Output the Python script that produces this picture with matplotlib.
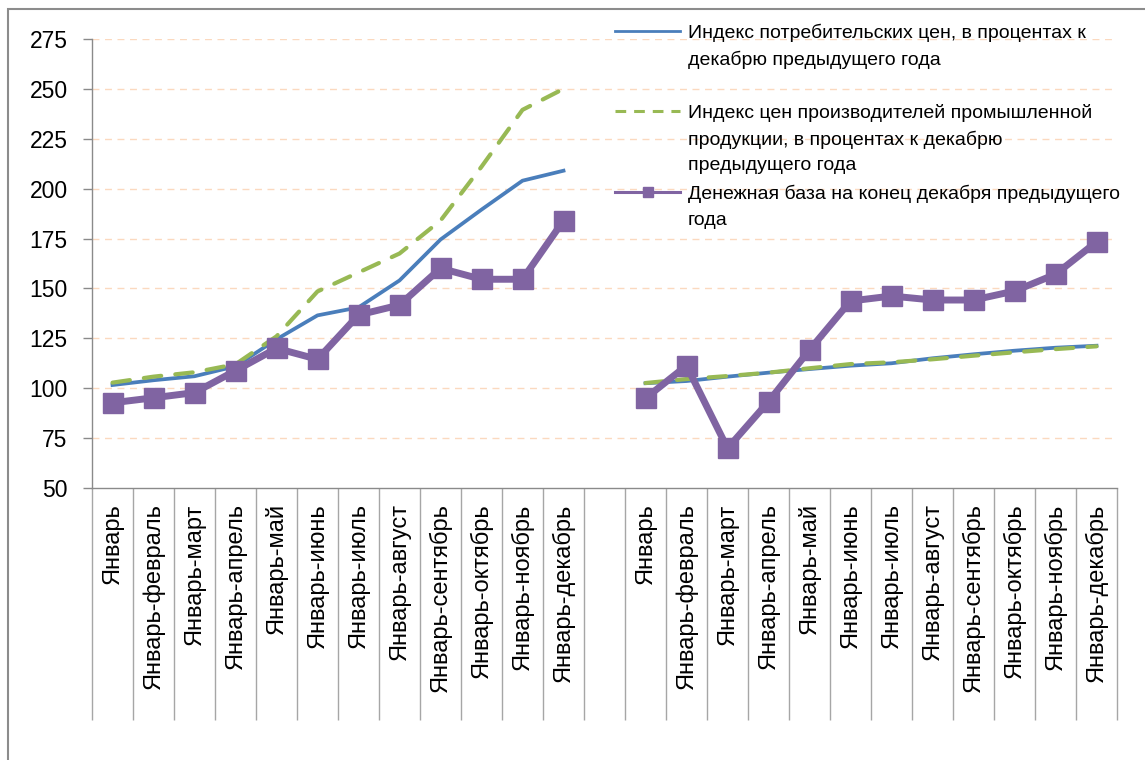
import numpy as np
import matplotlib.pyplot as plt
from matplotlib.lines import Line2D
from matplotlib.patches import Rectangle

months = ['Январь', 'Январь-февраль', 'Январь-март', 'Январь-апрель', 'Январь-май',
          'Январь-июнь', 'Январь-июль', 'Январь-август', 'Январь-сентябрь',
          'Январь-октябрь', 'Январь-ноябрь', 'Январь-декабрь']

cpi_1 = [101.6, 104, 106, 111, 124.5, 136.5, 140.5, 154, 174.5, 189.5, 204, 209]
cpi_2 = [102.5, 103.6, 105.8, 107.8, 109.6, 111.3, 112.5, 115, 117, 118.8, 120.3, 121.3]

ppi_1 = [102.8, 105.8, 108, 112, 126, 148.5, 158, 167.5, 184, 211, 239.5, 250]
ppi_2 = [102.6, 104.6, 106.1, 107.8, 110, 112.1, 113, 114.5, 116.3, 118, 119.6, 121]

base_1 = [92.7, 95.2, 97.8, 108.8, 120, 114.5, 136.7, 141.7, 160.1, 154.6, 154.6, 184]
base_2 = [95, 111.3, 69.9, 93.3, 119.2, 143.7, 146.2, 144.2, 144.2, 148.7, 157.1, 173.3]

legend_lines = [
    ['Индекс потребительских цен, в процентах к', 'декабрю предыдущего года'],
    ['Индекс цен производителей промышленной', 'продукции, в процентах к декабрю',
     'предыдущего года'],
    ['Денежная база на конец декабря предыдущего', 'года'],
]

labels = months + [''] + months
x = np.arange(len(labels))
gap = [np.nan]
cpi = np.array(cpi_1 + gap + cpi_2)
ppi = np.array(ppi_1 + gap + ppi_2)
base = np.array(base_1 + gap + base_2)

BLUE = '#4A7EBB'
GREEN = '#98B954'
PURPLE = '#8064A2'
AXIS = '#8a8a8a'

plt.rcParams['font.family'] = ['Liberation Sans', 'DejaVu Sans']

W, H = 1145, 760
fig = plt.figure(figsize=(W / 100, H / 100), dpi=100)
ax = fig.add_axes([92 / W, 1 - 488 / H, (1117 - 92) / W, (488 - 39) / H])

def px(xp, yp):
    return xp / W, 1 - yp / H

ax.plot(x, cpi, color=BLUE, lw=2.7, zorder=3)
ax.plot(x, ppi, color=GREEN, lw=3, linestyle=(0, (4.2, 3.4)),
        dash_capstyle='round', zorder=4)
ax.plot(x, base, color=PURPLE, lw=5, marker='s', markersize=14.5, zorder=5)

ax.set_xlim(-0.5, len(labels) - 0.5)
ax.set_ylim(50, 275)
ax.set_yticks(np.arange(50, 276, 25))
for v in np.arange(75, 276, 25):
    ax.axhline(v, color='#FBD9BF', lw=1, linestyle=(0, (5, 4)), zorder=1)

ax.set_xticks(x)
ax.set_xticklabels(labels, rotation=90, va='top', fontsize=17)
ax.set_xticks(np.arange(-0.5, len(labels)), minor=True)
ax.tick_params(axis='x', which='major', length=0, pad=11)
ax.tick_params(axis='x', which='minor', length=167, width=1, color='#a6a6a6')
ax.tick_params(axis='y', length=6.5, width=1, color=AXIS, pad=11, labelsize=16.5)

for s in ['top', 'right']:
    ax.spines[s].set_visible(False)
for s in ['left', 'bottom']:
    ax.spines[s].set_color(AXIS)
    ax.spines[s].set_linewidth(1)

# legend drawn by hand, handles on the first line of every entry as in the source
handles = [
    dict(color=BLUE, lw=2),
    dict(color=GREEN, lw=2.2, linestyle=(0, (3.5, 2.6))),
    dict(color=PURPLE, lw=2.2, marker='s', markersize=7, markevery=[1]),
]
first_rows = [31, 111, 192]
for style, y0, rows in zip(handles, first_rows, legend_lines):
    (x0, yy), (x1, _) = px(615, y0), px(680, y0)
    fig.add_artist(Line2D([x0, (x0 + x1) / 2, x1], [yy] * 3,
                          transform=fig.transFigure, **style))
    for i, row in enumerate(rows):
        tx, ty = px(688, y0 + i * 26.5)
        fig.text(tx, ty, row, fontsize=14, va='center_baseline', ha='left')

fig.add_artist(Rectangle(px(8, 800), 2, (800 - 9) / H, transform=fig.transFigure,
                         fill=False, edgecolor='#8c8c8c', lw=1.5))

fig.savefig('out.png', dpi=100)
